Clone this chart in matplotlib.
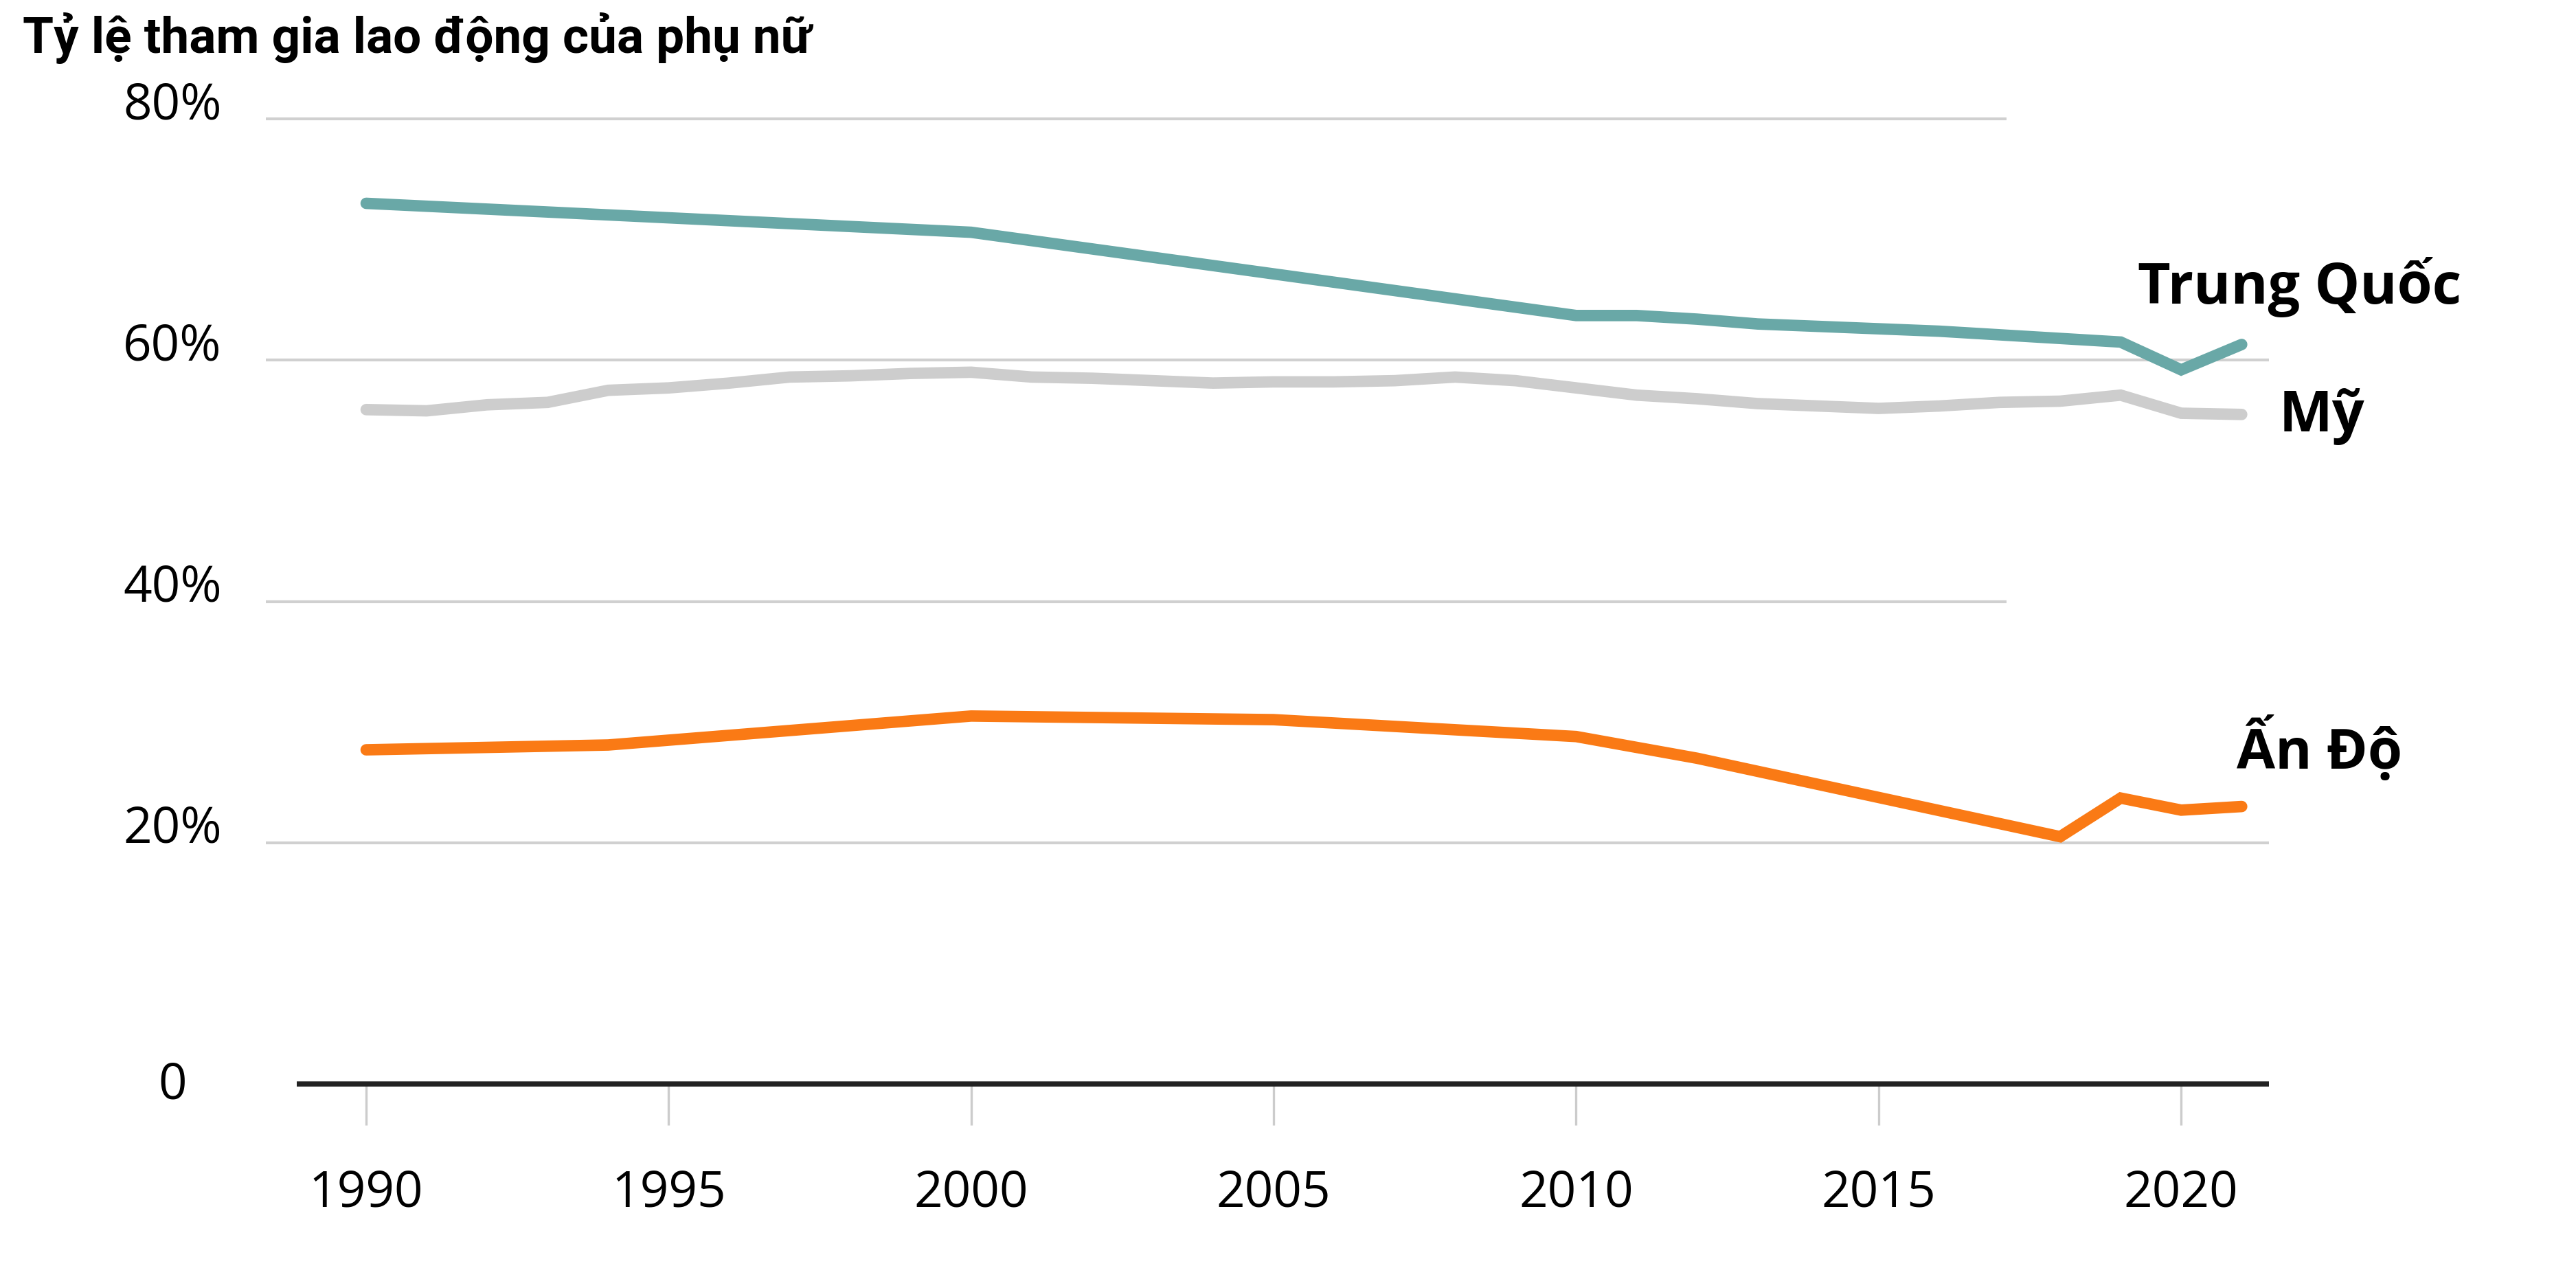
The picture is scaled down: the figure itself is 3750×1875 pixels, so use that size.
import matplotlib
matplotlib.use('Agg')
import matplotlib.pyplot as plt
import matplotlib.transforms as mtransforms

# data (percent of women in the labour force)
years_china = [1990, 2000, 2010, 2011, 2012, 2013, 2014, 2015, 2016, 2017, 2018, 2019, 2020, 2021]
china = [73.0, 70.6, 63.7, 63.7, 63.4, 63.0, 62.8, 62.6, 62.4, 62.1, 61.8, 61.5, 59.2, 61.3]

years_us = list(range(1990, 2022))
us = [55.9, 55.8, 56.3, 56.5, 57.5, 57.7, 58.1, 58.6, 58.7, 58.9,
      59.0, 58.6, 58.5, 58.3, 58.1, 58.2, 58.2, 58.3, 58.6, 58.3,
      57.7, 57.1, 56.8, 56.4, 56.2, 56.0, 56.2, 56.5, 56.6, 57.1,
      55.6, 55.5]

years_india = [1990, 1994, 2000, 2005, 2010, 2012, 2018, 2019, 2020, 2021]
india = [27.7, 28.1, 30.5, 30.2, 28.8, 27.0, 20.5, 23.7, 22.7, 23.0]

x_ticks = [1990, 1995, 2000, 2005, 2010, 2015, 2020]
y_ticks = [0, 20, 40, 60, 80]
y_labels = ['0', '20%', '40%', '60%', '80%']

title = 'Tỷ lệ tham gia lao động của phụ nữ'
names = ['Trung Quốc', 'Mỹ', 'Ấn Độ']

plt.rcParams['font.family'] = ['Open Sans', 'DejaVu Sans']

fig = plt.figure(figsize=(12.5, 6.25), dpi=300)
ax = fig.add_axes([0.09517, 0.1584, 0.79853, 0.7493])
ax.set_xlim(1988, 2022)
ax.set_ylim(0, 80)

for spine in ax.spines.values():
    spine.set_visible(False)

# grid lines, two of them stop short before the labels
for val in y_ticks[1:]:
    end = 2021.45 if val in (20, 60) else 2017.11
    ax.plot([1988.34, end], [val, val], color='#d0d0d0', lw=1.0,
            zorder=1, clip_on=False, solid_capstyle='butt')
# baseline
ax.plot([1988.85, 2021.45], [0, 0], color='#222222', lw=1.8,
        zorder=3, clip_on=False, solid_capstyle='butt')

ax.set_xticks(x_ticks)
ax.set_xticklabels([str(x) for x in x_ticks])
ax.tick_params(axis='x', length=14.4, width=0.8, color='#cccccc',
               pad=15.0, labelsize=17.5, labelcolor='black')
ax.set_yticks([])

# y labels sit on top of their grid line, centred in the margin
trans = mtransforms.blended_transform_factory(fig.transFigure, ax.transData)
for val, lab in zip(y_ticks, y_labels):
    yy = -1.25 if val == 0 else val
    ax.text(0.0669, yy, lab, transform=trans, ha='center', va='baseline',
            fontsize=17.5, color='black')

lw = 4.0
ax.plot(years_us, us, color='#cdcdcd', lw=lw, solid_capstyle='round',
        solid_joinstyle='miter', zorder=4, clip_on=False)
ax.plot(years_china, china, color='#69a8a7', lw=lw, solid_capstyle='round',
        solid_joinstyle='miter', zorder=5, clip_on=False)
ax.plot(years_india, india, color='#fa7a15', lw=lw, solid_capstyle='round',
        solid_joinstyle='miter', zorder=5, clip_on=False)

# line labels
ax.text(2019.28, 64.68, names[0], fontsize=19.8, fontweight='bold',
        ha='left', va='baseline', clip_on=False)
ax.text(2021.62, 54.09, names[1], fontsize=19.8, fontweight='bold',
        ha='left', va='baseline', clip_on=False)
ax.text(2020.92, 26.14, names[2], fontsize=19.5, fontweight='bold',
        ha='left', va='baseline', clip_on=False)

# title is set a bit narrower than the rest
fig.text(0.0088, 0.959, title, fontsize=17.5, fontweight='bold',
         family=['Roboto', 'DejaVu Sans'], ha='left', va='baseline')

fig.savefig('out.png', dpi=300)
